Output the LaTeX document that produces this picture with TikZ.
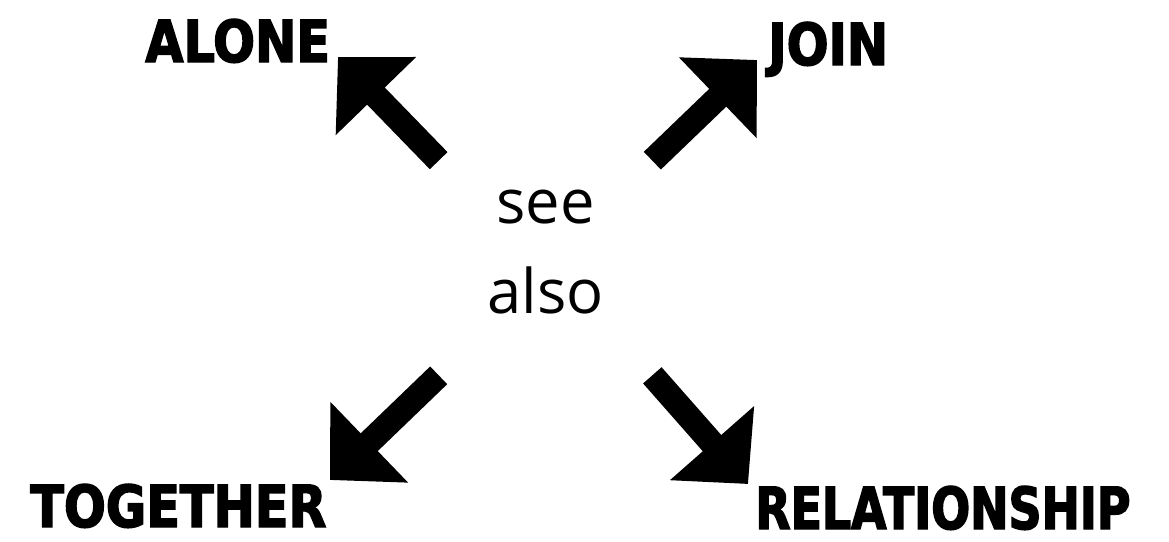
\documentclass[tikz,border=0pt]{standalone}
\usepackage{fontspec}
\setmainfont{Open Sans}
\newfontfamily\tagfont{DejaVu Sans Bold}[FakeStretch=0.85,FakeBold=2.5]
\newfontfamily\tagfontnarrow{DejaVu Sans Bold}[FakeStretch=0.79,FakeBold=2.5]
\usetikzlibrary{arrows.meta}

\begin{document}
\begin{tikzpicture}[
  x=0.02cm, y=-0.02cm,
  tag/.style={font=\tagfont\fontsize{33}{38}\selectfont, inner sep=0pt, anchor=base west},
  hub/.style={minimum width=4.26cm, minimum height=4.28cm, inner sep=0pt, align=center, text depth=18.8pt, font=\fontsize{35}{51.2}\selectfont},
  fat/.style={line width=14pt, -{Triangle[length=31pt, width=62pt]}}
]
  \useasboundingbox (0,0) rectangle (1169,541);

  % Nodes
  \node[hub] (hub) at (545.5,268) {see\\also};

  \node[tag] (alone) at (145,62) {ALONE};
  \node[tag] (join) at (768,65) {JOIN};
  \node[tag] (together) at (30,527) {TOGETHER};
  \node[tag, font=\tagfontnarrow\fontsize{33}{38}\selectfont] (relation) at (755,529) {RELATIONSHIP};

  \coordinate (aloneTip) at (338,57);
  \coordinate (joinTip) at (757,60);
  \coordinate (togetherTip) at (330,480);
  \coordinate (relationTip) at (748,484);

  % Arrows
  \draw[fat] (hub.north west) -- (aloneTip);
  \draw[fat] (hub.north east) -- (joinTip);
  \draw[fat] (hub.south west) -- (togetherTip);
  \draw[fat] (hub.south east) -- (relationTip);

\end{tikzpicture}
\end{document}
